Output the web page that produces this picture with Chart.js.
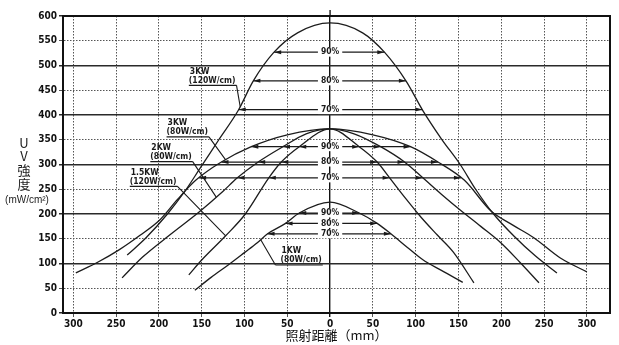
<!DOCTYPE html>
<html>
<head>
<meta charset="utf-8">
<script src="https://cdn.jsdelivr.net/npm/chart.js@4.4.1/dist/chart.umd.min.js"></script>
<style>
  html, body { margin: 0; padding: 0; background: #fff; }
  #wrap { width: 619px; height: 345px; }
</style>
</head>
<body>
<div id="wrap"><canvas id="uvChart" width="619" height="345"></canvas></div>
<script>
// 照射距離 (mm) / UV強度 (mW/cm2)
var xTicks = [-300, -250, -200, -150, -100, -50, 0, 50, 100, 150, 200, 250, 300]
var yTicks = [0, 50, 100, 150, 200, 250, 300, 350, 400, 450, 500, 550, 600]

// 3KW (120W/cm)
var kw3_120_x = [-237, -215, -190, -170, -152, -130, -107, -90, -66, -38, 0, 38, 64, 89, 108, 130, 152, 170, 190, 215, 240, 265]
var kw3_120_y = [117, 152, 200, 245, 292, 350, 410, 468, 526, 566, 586, 566, 526, 468, 410, 352, 300, 250, 202, 155, 115, 81]
// 3KW (80W/cm)
var kw3_80_x = [-297, -271, -247, -222, -199, -178, -157, -128, -92, -50, 0, 50, 94, 127, 157, 188, 213, 238, 269, 300]
var kw3_80_y = [81, 103, 127, 157, 188, 230, 268, 304, 336, 360, 372, 360, 336, 304, 268, 206, 178, 152, 111, 83]
// 2KW (80W/cm)
var kw2_80_x = [-243, -219, -187, -153, -125, -109, -84, -55, -28, 0, 28, 59, 87, 109, 130, 152, 176, 200, 222, 244]
var kw2_80_y = [71, 113, 158, 204, 246, 272, 305, 336, 362, 372, 362, 336, 305, 272, 240, 208, 175, 141, 102, 61]
// 1.5KW (120W/cm)
var kw15_120_x = [-165, -150, -122, -99, -72, -57, -36, 0, 34, 55, 70, 88, 106, 125, 144, 168]
var kw15_120_y = [77, 107, 156, 200, 272, 305, 336, 372, 336, 305, 272, 232, 194, 158, 123, 61]
// 1KW (80W/cm)
var kw1_80_x = [-158, -139, -119, -100, -85, -73, -52, -36, 0, 34, 55, 71, 90, 108, 130, 155]
var kw1_80_y = [46, 72, 97, 122, 142, 160, 181, 202, 224, 202, 181, 160, 133, 108, 86, 62]

var pctNames = ['90%', '80%', '70%']
var levels3kw120 = [527, 469, 411]
var levelsMid = [336, 305, 273]
var levels1kw = [202, 181, 160]

var curves = [
  { x: kw3_120_x, y: kw3_120_y },
  { x: kw3_80_x, y: kw3_80_y },
  { x: kw2_80_x, y: kw2_80_y },
  { x: kw15_120_x, y: kw15_120_y },
  { x: kw1_80_x, y: kw1_80_y }
]

var pctGroups = [
  { levels: levels3kw120, curves: [0] },
  { levels: levelsMid, curves: [1, 2, 3] },
  { levels: levels1kw, curves: [4] }
]

// lamp captions: left edge / value of the "(xxW/cm)" line, pointer end on curve
var lampNotes = [
  { name: '3KW', rating: '(120W/cm)', left: -165, y: 470, curve: 0, hitX: -105, from: 'end' },
  { name: '3KW', rating: '(80W/cm)', left: -191, y: 366, curve: 1, hitX: -122, from: 'end' },
  { name: '2KW', rating: '(80W/cm)', left: -210, y: 316, curve: 2, hitX: -133, from: 'end' },
  { name: '1.5KW', rating: '(120W/cm)', left: -234, y: 266, curve: 3, hitX: -122, from: 'end' },
  { name: '1KW', rating: '(80W/cm)', left: -58, y: 107, curve: 4, hitX: -81, from: 'start' }
]

var narrow = '"Liberation Sans Narrow", "DejaVu Sans Condensed", "Liberation Sans", sans-serif'

function yOn(cv, x) {
  for (var i = 0; i < cv.x.length - 1; i++) {
    if (x >= cv.x[i] && x <= cv.x[i + 1]) {
      var t = (x - cv.x[i]) / (cv.x[i + 1] - cv.x[i])
      return cv.y[i] + t * (cv.y[i + 1] - cv.y[i])
    }
  }
  return null
}

function crossX(cv, level, side) {
  var xs = cv.x, ys = cv.y, i, t
  if (side < 0) {
    for (i = 0; i < xs.length - 1 && xs[i] < 0; i++) {
      if (ys[i] <= level && ys[i + 1] >= level) {
        t = (level - ys[i]) / (ys[i + 1] - ys[i])
        return xs[i] + t * (xs[i + 1] - xs[i])
      }
    }
  } else {
    for (i = xs.length - 1; i > 0 && xs[i] > 0; i--) {
      if (ys[i] <= level && ys[i - 1] >= level) {
        t = (level - ys[i]) / (ys[i - 1] - ys[i])
        return xs[i] + t * (xs[i - 1] - xs[i])
      }
    }
  }
  return null
}

function arrowHead(c, x, y, dir) {
  c.beginPath()
  c.moveTo(x, y)
  c.lineTo(x - dir * 7, y - 2)
  c.lineTo(x - dir * 7, y + 2)
  c.closePath()
  c.fill()
}

var decor = {
  id: 'decor',
  afterDatasetsDraw: function (chart) {
    var c = chart.ctx, sx = chart.scales.x, sy = chart.scales.y, a = chart.chartArea
    var x0 = sx.getPixelForValue(0)
    c.save()
    c.strokeStyle = '#1a1a1a'
    c.fillStyle = '#1a1a1a'
    c.lineWidth = 1.2

    // center line runs a little above the frame, as in the print
    c.lineWidth = 1.4
    c.beginPath()
    c.moveTo(x0, a.top)
    c.lineTo(x0, a.top - 6)
    c.stroke()
    c.lineWidth = 1.2

    // percentage arrows
    pctGroups.forEach(function (g) {
      g.levels.forEach(function (lv, k) {
        var py = sy.getPixelForValue(lv)
        var lefts = [], rights = []
        g.curves.forEach(function (ci) {
          var l = crossX(curves[ci], lv, -1), r = crossX(curves[ci], lv, 1)
          if (l !== null) lefts.push(sx.getPixelForValue(l))
          if (r !== null) rights.push(sx.getPixelForValue(r))
        })
        c.beginPath()
        c.moveTo(Math.min.apply(null, lefts), py)
        c.lineTo(Math.max.apply(null, rights), py)
        c.stroke()
        lefts.forEach(function (px) { arrowHead(c, px, py, -1) })
        rights.forEach(function (px) { arrowHead(c, px, py, 1) })
        c.font = 'bold 8.5px ' + narrow
        c.textAlign = 'center'
        c.textBaseline = 'middle'
        var w = c.measureText(pctNames[k]).width
        c.fillStyle = '#fff'
        c.fillRect(x0 - w / 2 - 3, py - 4.5, w + 6, 9)
        c.fillStyle = '#1a1a1a'
        c.fillText(pctNames[k], x0, py)
      })
    })

    // lamp captions
    lampNotes.forEach(function (n) {
      var lx = sx.getPixelForValue(n.left), ry = sy.getPixelForValue(n.y)
      c.font = 'bold 8.5px ' + narrow
      c.textAlign = 'left'
      c.textBaseline = 'middle'
      c.fillText(n.name, lx + 1, ry - 9)
      c.fillText(n.rating, lx, ry)
      var w = c.measureText(n.rating).width
      var uy = ry + 5
      var ux0 = n.from === 'start' ? lx - 5 : lx
      var ux1 = lx + w + 1
      var hx = sx.getPixelForValue(n.hitX), hy = sy.getPixelForValue(yOn(curves[n.curve], n.hitX))
      c.lineWidth = 1.1
      c.beginPath()
      c.moveTo(ux0, uy)
      c.lineTo(ux1, uy)
      c.moveTo(n.from === 'start' ? ux0 : ux1, uy)
      c.lineTo(hx, hy)
      c.stroke()
    })

    // frame
    c.lineWidth = 2
    c.strokeStyle = '#111'
    c.strokeRect(a.left, a.top, a.right - a.left, a.bottom - a.top)
    c.restore()
  },
  afterDraw: function (chart) {
    var c = chart.ctx
    c.save()
    c.fillStyle = '#222'
    c.textAlign = 'center'
    c.textBaseline = 'middle'
    c.font = '13px "Noto Sans CJK JP", sans-serif'
    c.fillText('U', 24, 143)
    c.fillText('V', 24, 156)
    c.fillText('強', 24, 170)
    c.fillText('度', 24, 184)
    c.font = '10px "Liberation Sans", sans-serif'
    c.fillText('(mW/cm²)', 27, 200)
    c.restore()
  }
}

var ctx = document.getElementById('uvChart').getContext('2d')
var uvChart = new Chart(ctx, {
  type: 'line',
  data: {
    datasets: curves.map(function (cv, i) {
      return {
        label: 'lamp' + i,
        data: cv.x.map(function (v, j) { return { x: v, y: cv.y[j] } }),
        borderColor: '#1c1c1c',
        borderWidth: 1.3,
        pointRadius: 0,
        fill: false,
        cubicInterpolationMode: 'monotone'
      }
    })
  },
  options: {
    responsive: false,
    animation: false,
    layout: { padding: { left: 0, right: 9, top: 16, bottom: 0 } },
    plugins: { legend: { display: false }, tooltip: { enabled: false } },
    scales: {
      x: {
        type: 'linear',
        min: -312,
        max: 327,
        afterBuildTicks: function (s) { s.ticks = xTicks.map(function (v) { return { value: v } }) },
        afterFit: function (s) { s.height = 32 },
        ticks: {
          autoSkip: false,
          maxRotation: 0,
          padding: 1,
          color: '#111',
          font: { family: narrow, size: 10, weight: 'bold' },
          callback: function (v) { return Math.abs(v) }
        },
        grid: {
          tickLength: 4,
          color: function (c) { return c.tick && c.tick.value === 0 ? '#111' : '#555' },
          lineWidth: function (c) { return c.tick && c.tick.value === 0 ? 1.4 : 1 }
        },
        border: {
          color: '#111',
          width: 2,
          dash: function (c) { return c.tick && c.tick.value === 0 ? [] : [1.5, 1.5] }
        },
        title: {
          display: true,
          text: '照射距離（mm）',
          color: '#111',
          font: { family: '"Noto Sans CJK JP", sans-serif', size: 13 },
          padding: { top: 0, bottom: 2 }
        }
      },
      y: {
        min: 0,
        max: 600,
        afterBuildTicks: function (s) { s.ticks = yTicks.map(function (v) { return { value: v } }) },
        afterFit: function (s) { s.width = 63 },
        ticks: {
          padding: 2,
          color: '#111',
          font: { family: narrow, size: 10, weight: 'bold' }
        },
        grid: {
          tickLength: 4,
          color: function (c) { return c.tick && c.tick.value % 100 === 0 ? '#2a2a2a' : '#555' },
          lineWidth: function (c) { return c.tick && c.tick.value % 100 === 0 ? 1.5 : 1 }
        },
        border: {
          color: '#111',
          width: 2,
          dash: function (c) { return c.tick && c.tick.value % 100 === 0 ? [] : [1.5, 1.5] }
        }
      }
    }
  },
  plugins: [decor]
})
</script>
</body>
</html>
